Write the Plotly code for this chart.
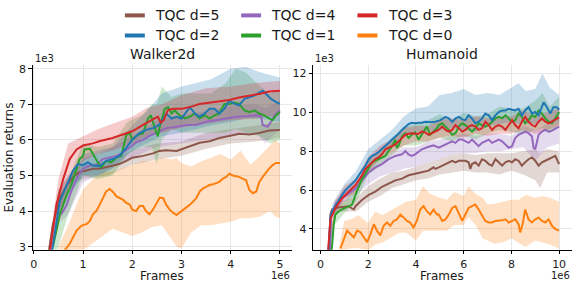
import plotly.graph_objects as go

# ---------------- Walker2d (x in 1e6 frames, y in 1e3 returns) ----------------
W_d3_x = [0.3,0.46,0.6,0.73,0.87,1.0,1.2,1.33,1.6,1.81,2.0,2.22,2.42,2.52,2.58,2.64,2.72,2.83,3.0,3.17,3.37,3.57,3.77,3.97,4.17,4.38,4.58,4.78,5.0]
W_d3_y = [2.6,4.18,4.91,5.46,5.73,5.84,5.9,5.96,6.05,6.15,6.24,6.42,6.57,6.65,6.48,6.55,6.83,6.87,6.87,6.92,7.01,7.05,7.1,7.12,7.19,7.24,7.29,7.36,7.38]
W_d2_x = [0.35,0.53,0.67,0.8,0.9,1.0,1.1,1.2,1.34,1.47,1.6,1.74,1.88,2.0,2.15,2.28,2.42,2.55,2.59,2.69,2.8,2.9,3.0,3.1,3.17,3.27,3.37,3.47,3.57,3.67,3.77,3.87,3.97,4.08,4.17,4.28,4.38,4.48,4.58,4.65,4.72,4.82,4.92,5.0]
W_d2_y = [2.7,4.27,4.73,5.14,5.32,5.29,5.37,5.28,5.26,5.41,5.46,5.55,5.78,6.0,6.19,6.28,6.33,6.42,6.5,6.74,6.6,6.65,6.6,6.78,6.92,6.74,6.65,6.74,6.87,6.87,6.74,6.87,7.1,7.01,6.97,7.15,7.19,7.24,7.33,7.38,7.29,7.15,7.06,7.01]
W_d1_x = [0.39,0.53,0.67,0.76,0.87,0.93,1.0,1.03,1.14,1.2,1.3,1.37,1.47,1.57,1.68,1.78,1.88,1.95,2.0,2.11,2.22,2.32,2.38,2.45,2.52,2.56,2.66,2.73,2.8,2.86,2.96,3.07,3.17,3.27,3.37,3.47,3.57,3.67,3.77,3.87,3.97,4.08,4.17,4.28,4.38,4.48,4.58,4.68,4.78,4.85,4.92,5.0]
W_d1_y = [3.0,3.91,4.46,4.73,5.19,5.46,5.55,5.73,5.75,5.6,5.37,5.23,5.41,5.37,5.5,5.55,6.14,6.19,6.0,6.14,6.19,6.6,6.69,6.37,6.1,6.37,6.87,6.92,6.74,6.83,6.69,6.6,6.65,6.74,6.6,6.69,6.6,6.69,6.74,7.01,7.01,7.05,7.01,6.83,6.78,6.83,6.74,6.69,6.6,6.55,6.69,6.78]
W_d4_x = [0.55,0.6,0.67,0.76,0.87,1.0,1.14,1.27,1.4,1.54,1.68,1.81,1.95,2.08,2.22,2.35,2.49,2.69,2.9,3.1,3.3,3.5,3.7,3.9,4.11,4.31,4.52,4.62,4.65,4.75,4.82,4.89,5.0]
W_d4_y = [3.9,4.0,4.18,4.55,4.91,5.19,5.28,5.29,5.46,5.5,5.55,5.64,5.78,5.93,6.0,6.11,6.2,6.33,6.37,6.42,6.42,6.51,6.55,6.6,6.65,6.66,6.69,6.65,6.42,6.37,6.51,6.69,6.83]
W_d5_x = [0.3,0.39,0.53,0.67,0.8,0.93,1.07,1.2,1.34,1.47,1.6,1.74,1.88,2.0,2.22,2.42,2.55,2.69,2.9,3.0,3.17,3.37,3.57,3.77,3.97,4.17,4.38,4.58,4.78,5.0]
W_d5_y = [2.8,3.63,4.36,4.73,4.96,5.1,5.14,5.19,5.19,5.23,5.26,5.32,5.41,5.5,5.55,5.62,5.69,5.71,5.69,5.74,5.82,5.92,5.96,6.05,6.11,6.17,6.15,6.19,6.26,6.28]
W_d0_x = [0.63,0.73,0.87,0.97,1.07,1.14,1.2,1.27,1.34,1.4,1.47,1.54,1.6,1.68,1.74,1.81,1.88,1.95,2.0,2.08,2.15,2.22,2.28,2.35,2.42,2.49,2.56,2.63,2.69,2.76,2.83,2.9,2.96,3.03,3.1,3.17,3.24,3.3,3.37,3.44,3.5,3.57,3.64,3.71,3.77,3.84,3.91,3.97,4.04,4.11,4.17,4.24,4.31,4.38,4.45,4.52,4.58,4.65,4.72,4.78,4.85,4.92,5.0]
W_d0_y = [2.9,3.08,3.45,3.59,3.63,3.72,3.91,4.0,4.18,4.36,4.55,4.62,4.55,4.41,4.36,4.32,4.23,4.18,4.04,4.0,4.14,4.14,4.0,3.91,4.04,4.2,4.38,4.36,4.18,4.04,3.95,3.89,3.95,4.04,4.09,4.18,4.27,4.36,4.55,4.64,4.68,4.73,4.75,4.78,4.82,4.91,4.96,5.05,5.0,4.98,4.96,4.91,4.87,4.59,4.5,4.55,4.82,4.96,5.1,5.19,5.29,5.35,5.35]

# Walker2d shaded bands (x, lower, upper)
WB_d3_x = [0.3,0.5,0.7,1.0,1.3,1.6,2.0,2.3,2.6,3.0,3.5,4.0,4.5,5.0]
WB_d3_lo = [2.5,3.5,4.6,5.4,5.6,5.7,5.9,6.1,6.2,6.35,6.45,6.55,6.6,6.7]
WB_d3_hi = [3.0,4.9,5.9,6.1,6.3,6.45,6.65,6.9,7.0,7.25,7.45,7.5,7.6,7.65]
WB_d2_x = [0.35,0.5,0.7,1.0,1.3,1.6,2.0,2.3,2.6,3.0,3.3,3.6,4.0,4.3,4.6,5.0]
WB_d2_lo = [2.6,3.8,4.4,5.0,5.0,5.2,5.7,5.9,6.1,6.2,6.3,6.4,6.5,6.6,6.6,6.5]
WB_d2_hi = [3.0,4.6,5.0,5.6,5.7,5.8,6.4,6.8,7.3,7.5,7.6,7.7,8.0,8.05,7.9,7.75]
WB_d1_x = [0.39,0.5,0.7,1.0,1.3,1.6,1.9,2.2,2.4,2.5,2.6,2.8,3.0,3.3,3.6,3.9,4.1,4.3,4.6,4.8,5.0]
WB_d1_lo = [2.5,3.0,3.9,5.0,4.9,5.0,5.6,5.8,5.8,5.3,6.0,6.3,6.2,6.2,6.2,6.2,6.3,6.2,6.1,5.9,6.0]
WB_d1_hi = [3.2,4.2,4.9,5.9,5.8,5.9,6.5,6.7,7.0,7.0,7.5,7.2,7.3,7.3,7.3,7.6,8.0,7.9,7.5,7.3,7.4]
WB_d4_x = [0.55,0.7,1.0,1.3,1.6,2.0,2.5,3.0,3.5,4.0,4.5,4.7,5.0]
WB_d4_lo = [3.7,3.9,4.8,5.0,5.2,5.5,5.8,5.9,6.0,6.1,6.2,5.9,6.3]
WB_d4_hi = [4.2,4.5,5.5,5.6,5.8,6.1,6.55,6.7,6.8,6.95,7.0,6.9,7.1]
WB_d5_x = [0.3,0.5,0.8,1.0,1.5,2.0,2.5,3.0,3.5,4.0,4.5,5.0]
WB_d5_lo = [2.6,4.0,4.75,4.9,5.0,5.3,5.45,5.55,5.75,5.9,5.95,6.05]
WB_d5_hi = [3.0,4.6,5.15,5.3,5.4,5.7,5.9,5.95,6.2,6.3,6.4,6.5]
WB_d0_x = [0.5,0.7,0.9,1.0,1.2,1.4,1.6,1.8,2.0,2.2,2.4,2.6,2.8,2.9,3.0,3.2,3.4,3.6,3.8,4.0,4.2,4.4,4.6,4.8,4.9,5.0]
WB_d0_lo = [2.0,2.2,2.6,2.9,3.1,3.3,3.5,3.4,3.3,3.4,3.55,3.6,3.2,3.0,2.95,3.4,3.6,3.6,3.65,3.7,3.8,3.8,3.85,4.0,3.85,3.8]
WB_d0_hi = [3.0,3.6,4.3,4.6,4.9,5.1,5.1,5.2,5.3,5.4,5.4,5.5,5.45,5.5,5.35,5.25,5.4,5.5,5.6,5.45,5.7,5.3,5.55,5.85,6.0,5.9]

# ---------------- Humanoid ----------------
H_d2_x = [0.3,0.35,0.42,0.49,0.63,0.77,0.91,1.05,1.19,1.33,1.47,1.61,1.75,1.89,2.03,2.16,2.3,2.44,2.58,2.72,2.86,3.0,3.14,3.28,3.42,3.56,3.69,3.83,3.97,4.11,4.25,4.39,4.53,4.67,4.81,5.03,5.24,5.38,5.52,5.66,5.8,5.94,6.07,6.21,6.35,6.49,6.63,6.77,6.91,7.05,7.19,7.33,7.47,7.61,7.75,7.89,8.03,8.16,8.3,8.44,8.58,8.72,8.86,9.0,9.14,9.28,9.35,9.49,9.63,9.76,9.9,10.0]
H_d2_y = [2.5,3.07,4.58,4.91,5.17,5.5,5.75,6.0,6.17,6.34,6.5,6.76,7.01,7.26,7.59,7.76,7.84,7.96,8.13,8.26,8.43,8.6,8.73,8.9,9.1,9.27,9.4,9.47,9.44,9.47,9.47,9.52,9.5,9.5,9.52,9.6,9.77,9.69,9.52,9.69,9.77,9.64,9.6,9.85,9.69,9.44,9.52,9.69,9.94,9.85,9.6,9.85,10.02,10.1,10.1,10.19,10.14,10.1,10.19,9.85,10.1,10.27,9.94,10.02,9.85,10.27,10.52,10.27,9.94,10.27,10.27,10.14]
H_d3_x = [0.3,0.42,0.63,0.91,1.19,1.47,1.75,1.89,2.03,2.16,2.3,2.44,2.58,2.72,2.86,3.0,3.14,3.28,3.42,3.56,3.69,3.83,3.97,4.11,4.25,4.39,4.53,4.67,4.81,4.95,5.1,5.24,5.38,5.52,5.66,5.8,5.94,6.07,6.21,6.35,6.49,6.63,6.77,6.91,7.05,7.19,7.33,7.47,7.61,7.75,7.89,8.03,8.16,8.3,8.44,8.58,8.72,8.86,9.0,9.14,9.28,9.42,9.56,9.68,9.84,10.0]
H_d3_y = [2.5,4.5,5.08,5.58,5.92,6.25,6.76,7.09,7.26,7.43,7.59,7.68,7.84,8.1,8.18,8.23,8.35,8.51,8.68,8.85,8.9,8.93,8.9,8.9,9.01,8.97,8.85,8.93,9.01,9.1,9.27,9.1,9.01,9.1,9.35,9.18,9.01,9.1,9.27,9.35,9.27,9.1,9.18,9.52,9.35,9.1,9.27,9.35,9.27,9.1,9.35,9.6,9.35,9.18,9.52,9.77,9.52,9.35,9.27,9.52,9.69,9.52,9.44,9.52,9.64,9.74]
H_d1_x = [0.45,0.49,0.56,0.63,0.77,0.91,1.05,1.19,1.33,1.47,1.61,1.75,1.89,2.03,2.16,2.3,2.44,2.58,2.72,2.86,3.0,3.14,3.2,3.28,3.42,3.56,3.69,3.83,3.97,4.11,4.25,4.39,4.46,4.6,4.74,4.88,4.96,5.1,5.24,5.38,5.52,5.66,5.8,5.94,6.07,6.21,6.35,6.49,6.63,6.77,6.91,7.05,7.19,7.33,7.47,7.61,7.75,7.89,8.03,8.16,8.3,8.44,8.58,8.72,8.86,9.0,9.14,9.28,9.42,9.56,9.7,9.84,10.0]
H_d1_y = [2.5,3.24,4.24,4.74,4.91,5.0,5.08,5.17,5.25,5.75,6.17,6.59,6.84,7.17,7.43,7.51,7.59,7.68,7.76,8.01,8.26,8.6,8.18,8.3,8.77,8.93,8.68,8.85,8.97,8.6,8.85,9.1,9.27,8.85,9.01,9.18,9.35,9.44,9.27,9.1,8.85,8.93,9.27,9.44,9.35,9.18,9.01,9.18,9.44,9.35,9.27,9.35,9.52,9.69,9.77,9.69,9.85,9.69,9.52,9.6,9.94,9.77,9.44,9.6,9.85,9.77,10.1,9.94,9.69,9.52,9.44,9.69,10.02]
H_d4_x = [0.4,0.45,0.63,0.91,1.19,1.47,1.75,2.03,2.3,2.58,2.86,3.14,3.42,3.56,3.69,3.83,3.97,4.25,4.53,4.74,4.96,5.1,5.24,5.38,5.52,5.66,5.8,5.94,6.07,6.21,6.35,6.49,6.63,6.77,6.91,7.05,7.19,7.33,7.47,7.61,7.75,7.89,8.03,8.16,8.3,8.44,8.58,8.72,8.86,8.93,9.0,9.14,9.28,9.42,9.56,9.68,9.84,10.0]
H_d4_y = [2.5,4.74,5.25,5.58,5.83,6.08,6.5,6.92,7.17,7.34,7.59,7.76,7.84,8.01,7.84,7.76,7.84,8.1,8.23,8.3,8.18,8.26,8.35,8.43,8.51,8.43,8.6,8.6,8.51,8.43,8.6,8.43,8.26,8.43,8.51,8.6,8.43,8.51,8.6,8.51,8.35,8.18,8.26,8.68,8.85,8.93,9.01,8.93,8.77,8.18,8.1,8.85,9.01,9.1,9.01,9.05,9.18,9.27]
H_d5_x = [0.35,0.42,0.49,0.63,0.77,1.05,1.19,1.33,1.4,1.47,1.61,1.75,2.03,2.3,2.58,2.86,3.14,3.42,3.69,3.97,4.25,4.53,4.74,4.82,4.96,5.1,5.24,5.38,5.52,5.66,5.8,5.94,6.07,6.21,6.28,6.35,6.49,6.63,6.77,6.91,7.05,7.19,7.33,7.47,7.61,7.75,7.89,8.03,8.16,8.3,8.44,8.58,8.72,8.86,9.0,9.14,9.28,9.42,9.56,9.7,9.84,10.0]
H_d5_y = [2.5,4.74,5.0,5.08,5.1,5.17,5.17,5.05,5.0,5.17,5.33,5.5,5.75,5.92,6.17,6.34,6.5,6.59,6.76,6.84,6.92,7.0,7.17,7.09,7.17,7.26,7.34,7.43,7.51,7.43,7.51,7.51,7.51,7.43,7.09,7.34,7.43,7.26,7.59,7.51,7.34,7.26,7.59,7.43,7.26,7.43,7.51,7.43,7.59,7.51,7.26,7.43,7.59,7.68,7.51,7.26,7.43,7.51,7.59,7.68,7.76,7.34]
H_d0_x = [0.84,0.98,1.12,1.26,1.4,1.54,1.68,1.82,1.96,2.1,2.24,2.37,2.51,2.65,2.79,2.93,3.07,3.21,3.35,3.49,3.63,3.76,3.9,4.04,4.18,4.32,4.46,4.6,4.74,4.88,4.96,5.1,5.24,5.38,5.52,5.66,5.8,5.94,6.07,6.21,6.35,6.49,6.63,6.77,6.91,7.05,7.19,7.33,7.47,7.61,7.75,7.89,8.03,8.16,8.3,8.37,8.47,8.58,8.72,8.86,9.0,9.14,9.28,9.42,9.56,9.7,9.84,10.0]
H_d0_y = [2.99,3.49,3.91,3.74,3.57,3.91,3.83,3.57,3.32,3.74,4.24,3.91,3.66,4.16,4.33,4.16,4.41,4.49,4.74,4.58,4.41,4.33,4.07,4.41,5.0,5.17,4.91,4.74,5.0,4.74,4.74,4.41,4.49,4.74,5.08,5.17,4.74,4.41,4.74,5.08,5.17,5.25,5.0,4.74,4.41,4.33,4.33,4.41,4.41,4.44,4.49,4.33,4.41,4.49,4.24,3.82,4.24,5.0,4.49,4.33,4.49,4.58,4.41,4.33,4.49,4.16,3.99,3.91]

HB_d2_x = [0.3,0.5,1.0,1.5,2.0,2.5,3.0,3.5,4.0,4.5,5.0,5.5,6.0,6.5,7.0,7.5,8.0,8.3,8.6,9.0,9.3,9.6,10.0]
HB_d2_lo = [2.3,4.6,5.7,6.1,7.1,7.7,8.2,8.8,9.0,9.0,9.1,9.2,9.1,9.0,9.3,9.4,9.5,9.4,9.5,9.4,9.6,9.4,9.5]
HB_d2_hi = [2.8,5.3,6.3,7.0,8.1,8.6,9.1,9.8,10.2,10.3,10.9,11.0,11.2,10.9,11.0,10.9,11.3,11.5,11.1,11.2,12.0,11.3,10.9]
HB_d3_x = [0.3,0.6,1.0,1.5,2.0,2.5,3.0,3.5,4.0,4.5,5.0,5.5,6.0,6.5,7.0,7.5,8.0,8.5,9.0,9.5,10.0]
HB_d3_lo = [2.3,4.7,5.5,5.9,6.9,7.6,7.9,8.3,8.5,8.5,8.7,8.8,8.7,8.9,8.8,8.9,8.9,9.1,8.9,9.1,9.3]
HB_d3_hi = [2.7,5.4,6.2,6.6,7.7,8.3,8.6,9.2,9.3,9.3,9.6,9.7,9.6,9.8,9.7,9.8,9.8,10.1,9.8,10.0,10.2]
HB_d1_x = [0.45,0.6,1.0,1.5,2.0,2.5,3.0,3.5,4.0,4.5,5.0,5.5,6.0,6.5,7.0,7.5,8.0,8.5,9.0,9.3,9.6,10.0]
HB_d1_lo = [2.3,4.2,4.8,5.4,6.8,7.2,7.8,8.3,8.3,8.5,8.7,8.5,8.8,8.6,8.9,9.1,9.0,8.9,9.1,9.2,8.9,9.4]
HB_d1_hi = [2.7,5.0,5.4,6.2,7.6,8.1,8.7,9.3,9.4,9.6,9.9,9.5,10.0,9.8,9.9,10.3,10.2,10.2,10.6,11.0,10.3,10.8]
HB_d4_x = [0.4,0.6,1.0,1.5,2.0,2.5,3.0,3.5,4.0,4.5,5.0,5.5,6.0,6.5,7.0,7.5,8.0,8.5,9.0,9.5,10.0]
HB_d4_lo = [2.3,4.9,5.4,5.7,6.3,6.7,6.9,7.1,7.2,7.4,7.6,7.8,7.9,7.9,8.0,8.0,8.1,8.2,7.5,8.2,8.4]
HB_d4_hi = [2.7,5.4,5.9,6.4,7.2,7.6,7.9,8.2,8.2,8.5,8.6,8.8,8.9,8.8,8.9,8.9,8.8,9.3,9.1,9.4,9.5]
HB_d5_x = [0.35,0.6,1.0,1.5,2.0,2.5,3.0,3.5,4.0,4.5,5.0,5.5,6.0,6.5,7.0,7.5,8.0,8.5,9.0,9.2,9.5,10.0]
HB_d5_lo = [2.3,4.8,4.9,4.9,5.4,5.7,6.1,6.3,6.5,6.6,6.8,6.9,7.0,6.9,6.9,6.8,7.0,6.8,6.5,6.1,6.9,6.9]
HB_d5_hi = [2.7,5.3,5.5,5.6,6.2,6.6,6.9,7.0,7.2,7.4,7.6,7.8,7.9,7.8,7.9,7.9,7.9,8.0,8.1,7.9,8.1,8.0]
HB_d0_x = [0.8,1.0,1.3,1.6,2.0,2.3,2.6,3.0,3.3,3.6,4.0,4.3,4.6,5.0,5.3,5.6,6.0,6.2,6.5,6.8,7.0,7.3,7.6,8.0,8.3,8.6,9.0,9.3,9.6,10.0]
HB_d0_lo = [2.7,2.9,3.0,3.0,2.9,3.2,3.3,3.6,3.8,3.8,3.4,3.9,3.9,3.9,3.9,4.2,4.2,4.6,4.2,3.5,3.4,3.24,3.3,3.5,3.3,3.07,3.4,3.3,3.2,2.98]
HB_d0_hi = [3.2,4.4,4.5,4.7,4.3,4.9,4.7,5.0,5.2,5.4,5.5,6.2,5.8,5.6,5.5,5.9,5.7,6.2,5.8,5.6,5.25,5.3,5.4,5.5,5.5,5.75,5.6,5.7,5.6,5.4]

LABELS = ["TQC d=5", "TQC d=4", "TQC d=3", "TQC d=2", "TQC d=1", "TQC d=0"]
KEYS = ["d5", "d4", "d3", "d2", "d1", "d0"]
COLORS = {"d5": "#8c564b", "d4": "#9467bd", "d3": "#d62728",
          "d2": "#1f77b4", "d1": "#2ca02c", "d0": "#ff7f0e"}

G = globals()

def rgba(hexc, a):
    h = hexc.lstrip("#")
    return "rgba(%d,%d,%d,%.2f)" % (int(h[0:2], 16), int(h[2:4], 16), int(h[4:6], 16), a)

fig = go.Figure()
W, H = 576, 288
FONT = "DejaVu Sans, Verdana, sans-serif"

panels = [("W", "x", "y"), ("H", "x2", "y2")]
order = ["d0", "d5", "d4", "d1", "d2", "d3"]
for p, xa, ya in panels:
    for k in order:
        bx, lo, hi = G[p + "B_" + k + "_x"], G[p + "B_" + k + "_lo"], G[p + "B_" + k + "_hi"]
        assert len(bx) == len(lo) == len(hi), (p, k)
        fig.add_trace(go.Scatter(x=bx + bx[::-1], y=hi + lo[::-1], fill="toself",
                                 fillcolor=rgba(COLORS[k], 0.24), line=dict(width=0),
                                 mode="lines", hoverinfo="skip", showlegend=False,
                                 xaxis=xa, yaxis=ya))
    for k in order:
        lx, ly = G[p + "_" + k + "_x"], G[p + "_" + k + "_y"]
        assert len(lx) == len(ly), (p, k, len(lx), len(ly))
        fig.add_trace(go.Scatter(x=lx, y=ly, mode="lines",
                                 line=dict(color=COLORS[k], width=2),
                                 showlegend=False, xaxis=xa, yaxis=ya))

def px(v):
    return v / W

def py(v):
    return 1 - v / H

axis_common = dict(showline=True, linecolor="black", linewidth=1, mirror=False,
                   ticks="outside", ticklen=3.5, tickwidth=1, tickcolor="black",
                   showgrid=True, gridcolor="#e8e8e8", gridwidth=1, zeroline=False,
                   tickfont=dict(family=FONT, size=11, color="#1a1a1a"))

yd = [py(253), py(64)]
fig.update_layout(
    width=W, height=H, margin=dict(l=0, r=0, t=0, b=0),
    paper_bgcolor="white", plot_bgcolor="white", showlegend=False,
    xaxis=dict(domain=[px(30.7), px(291)], range=[-0.024, 5.245],
               tickvals=[0, 1, 2, 3, 4, 5], anchor="y", **axis_common),
    yaxis=dict(domain=yd, range=[2.91, 8.09], tickvals=[3, 4, 5, 6, 7, 8],
               anchor="x", **axis_common),
    xaxis2=dict(domain=[px(312.3), px(572)], range=[-0.30, 10.54],
                tickvals=[0, 2, 4, 6, 8, 10], anchor="y2", **axis_common),
    yaxis2=dict(domain=yd, range=[2.92, 12.42], tickvals=[4, 6, 8, 10, 12],
                anchor="x2", **axis_common),
)

ann = []
def text(x, y, s, size, xanchor="center", yanchor="middle", angle=0):
    ann.append(dict(x=px(x), y=py(y), xref="paper", yref="paper", text=s,
                    showarrow=False, xanchor=xanchor, yanchor=yanchor, textangle=angle,
                    font=dict(family=FONT, size=size, color="#1a1a1a")))

text(160.8, 52, "Walker2d", 14)
text(442, 52, "Humanoid", 14)
text(30.7, 57, "1e3", 10, xanchor="left")
text(312.3, 57, "1e3", 10, xanchor="left")
text(291, 279, "1e6", 10, xanchor="right")
text(572, 279, "1e6", 10, xanchor="right")
text(160.8, 280, "Frames", 12)
text(442, 280, "Frames", 12)
text(7, 158.5, "Evaluation returns", 12, angle=-90)

# manual legend: 3 columns x 2 rows
col_handle = [123.3, 240.0, 356.7]
col_text = [151.7, 268.3, 385.0]
row_y = [12.7, 33.3]
shapes = []
for i, (k, lab) in enumerate(zip(KEYS, LABELS)):
    r, c = divmod(i, 3)
    shapes.append(dict(type="line", xref="paper", yref="paper",
                       x0=px(col_handle[c]), x1=px(col_handle[c] + 20),
                       y0=py(row_y[r]), y1=py(row_y[r]),
                       line=dict(color=COLORS[k], width=4)))
    text(col_text[c], row_y[r], lab, 14, xanchor="left")

fig.update_layout(annotations=ann, shapes=shapes)
fig.write_html("out.html")
